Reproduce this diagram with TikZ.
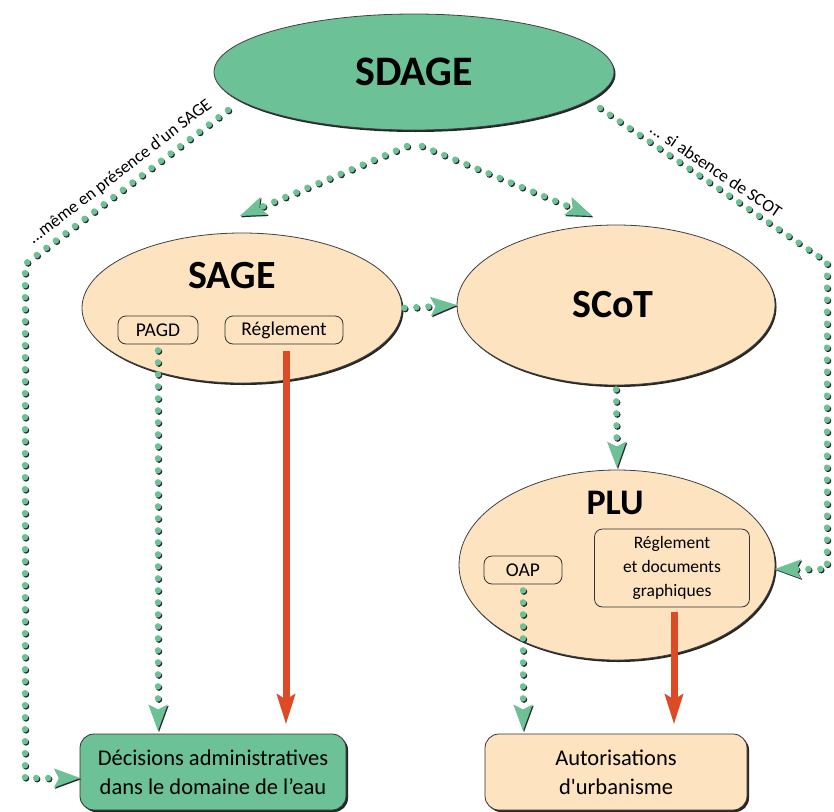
\documentclass[tikz,border=0pt]{standalone}
\usepackage{fontspec}
\setmainfont{Carlito}
\usetikzlibrary{shapes.geometric,arrows.meta,shadows}
\definecolor{dgreen}{HTML}{6CC197}
\definecolor{peach}{HTML}{FDE3BF}
\definecolor{dred}{HTML}{DD4A26}
\begin{document}
\begin{tikzpicture}[x=1pt,y=-1pt,
  bigell/.style={ellipse, draw=black!75, line width=0.8pt, inner sep=0pt,
    drop shadow={shadow xshift=1.5pt, shadow yshift=-2pt, opacity=0.85, fill=black}},
  title/.style={font=\fontsize{40}{44}\selectfont\bfseries, text=black},
  smallbox/.style={draw=black!80, line width=0.8pt, rounded corners=8pt, fill=peach,
    font=\fontsize{19.5}{23}\selectfont, inner sep=2pt, align=center},
  endbox/.style={draw=black!80, line width=0.8pt, rounded corners=14pt,
    font=\fontsize{22.5}{29}\selectfont, align=center, minimum height=76pt,
    drop shadow={shadow xshift=2pt, shadow yshift=-2pt, opacity=0.85, fill=black}},
  lbl/.style={font=\fontsize{17.5}{20}\selectfont, text=black, inner sep=0pt},
  dotline/.style={draw=dgreen, line width=6.5pt, line cap=round, dash pattern=on 0pt off 12pt,
    -{Stealth[length=26pt, width=19pt, inset=5pt, line width=0.01pt, fill=dgreen]},
    preaction={draw=black!85, line width=6.5pt, line cap=round, dash pattern=on 0pt off 12pt,
      -{Stealth[length=26pt, width=19pt, inset=5pt, line width=0.01pt, fill=black!85]},
      transform canvas={shift={(1pt,-1.2pt)}}}},
  redarrow/.style={draw=dred, line width=7pt,
    -{Stealth[length=30pt, width=19pt, inset=6pt, line width=0.01pt, fill=dred]}},
]
\useasboundingbox (0,0) rectangle (834,811);

% ellipses
\node[bigell, fill=dgreen, minimum width=400pt, minimum height=116pt] (sdage) at (414,72) {};
\node[title, font=\fontsize{42}{46}\selectfont\bfseries] (sdageT) at (414,72) {SDAGE};
\node[bigell, fill=peach, minimum width=320pt, minimum height=150pt] (sage) at (242,308) {};
\node[title] (sageT) at (232,276) {SAGE};
\node[bigell, fill=peach, minimum width=318pt, minimum height=160pt] (scot) at (616,305) {};
\node[title] (scotT) at (613,305) {SCoT};
\node[bigell, fill=peach, minimum width=316pt, minimum height=190pt] (plu) at (617,565) {};
\node[title, font=\fontsize{36}{40}\selectfont\bfseries] (pluT) at (615,503) {PLU};

% small boxes
\node[smallbox, minimum width=80pt, minimum height=28pt] (pagd) at (158,330) {PAGD};
\node[smallbox, minimum width=118pt, minimum height=28pt] (sreg) at (284,330) {Réglement};
\node[smallbox, minimum width=78pt, minimum height=28pt] (oap) at (523,570) {OAP};
\node[smallbox, font=\fontsize{17.5}{24}\selectfont, minimum width=155pt, minimum height=78pt] (preg) at (672,568)
  {Réglement\\ et documents\\ graphiques};

% end boxes
\node[endbox, fill=dgreen, minimum width=266pt] (dec) at (213,772)
  {Décisions administratives\\ dans le domaine de l’eau};
\node[endbox, fill=peach, minimum width=262pt] (aut) at (616,772)
  {Autorisations\\ d\textquotesingle urbanisme};

% coordinates
\coordinate (sdOutL) at (407,146);
\coordinate (sdOutR) at (422,146);
\coordinate (sageIn) at (240,216);
\coordinate (scotIn) at (592,216);
\coordinate (sdSideL) at (228,110);
\coordinate (bendL1) at (25,264);
\coordinate (bendL2) at (25,778);
\coordinate (sdSideR) at (600,108);
\coordinate (bendR1) at (827,262);
\coordinate (bendR2) at (827,569);
\coordinate (pluIn) at (775,569);
\coordinate (decIn) at (80,778);

% green dotted connectors
\draw[dotline] (sdOutL) -- (sageIn);
\draw[dotline] (sdOutR) -- (scotIn);
\draw[dotline] (sdSideL) -- (bendL1) -- (bendL2) -- (decIn);
\draw[dotline] (sdSideR) -- (bendR1) -- (bendR2) -- (pluIn);
\draw[dotline, shorten <=2pt] (sage.east) -- (scot.west);
\draw[dotline, shorten <=4pt, shorten >=2pt] (scot.south) -- (plu.north);
\draw[dotline, shorten <=6pt, shorten >=3pt] (pagd.south) -- (pagd.south |- dec.north);
\draw[dotline, shorten <=6pt, shorten >=3pt] (oap.south) -- (oap.south |- aut.north);

% red arrows
\draw[redarrow, shorten <=7pt, shorten >=10pt] ([xshift=2pt]sreg.south) -- ([xshift=2pt]sreg.south |- dec.north);
\draw[redarrow, shorten <=5pt, shorten >=10pt] ([xshift=2pt]preg.south) -- ([xshift=2pt]preg.south |- aut.north);

% labels
\node[lbl, rotate=37.5] (lblL) at (120,172) {...même en présence d’un SAGE};
\node[lbl, rotate=-34] (lblR) at (716,170) {... si absence de SCOT};
\end{tikzpicture}
\end{document}
